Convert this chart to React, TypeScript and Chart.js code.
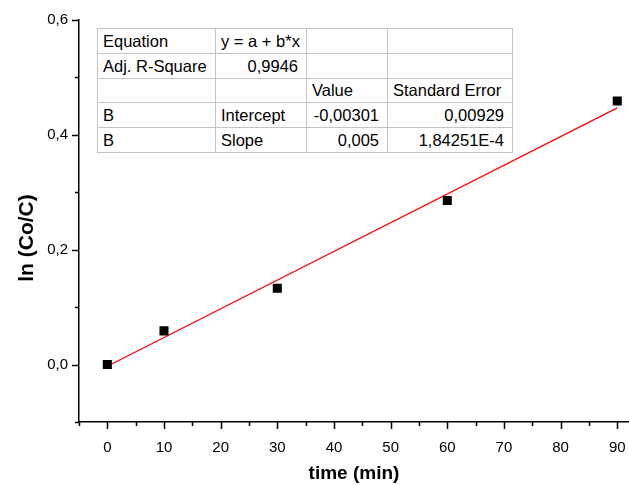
import React, { useEffect, useRef } from "react";
import { Chart, registerables } from "chart.js";

Chart.register(...registerables);

// ---- data ----
const timeMin = [0, 10, 30, 60, 90];
const lnCoC = [0.0, 0.0587, 0.133, 0.2857, 0.4589];

// linear fit line end points (y = a + b*x, a = -0.00301, b = 0.005)
const fitX = [0, 90];
const fitY = [-0.00301, 0.44699];

const xTickValues = [-5, 0, 5, 10, 15, 20, 25, 30, 35, 40, 45, 50, 55, 60, 65, 70, 75, 80, 85, 90];
const yTickValues = [-0.1, 0, 0.1, 0.2, 0.3, 0.4, 0.5, 0.6];

const xTitle = "time (min)";
const yTitle = "ln (Co/C)";

const tableRows: string[][] = [
  ["Equation", "y = a + b*x", "", ""],
  ["Adj. R-Square", "0,9946", "", ""],
  ["", "", "Value", "Standard Error"],
  ["B", "Intercept", "-0,00301", "0,00929"],
  ["B", "Slope", "0,005", "1,84251E-4"],
];
// which cells are right aligned
const tableRight: boolean[][] = [
  [false, false, false, false],
  [false, true, false, false],
  [false, false, false, false],
  [false, false, true, true],
  [false, false, true, true],
];
const colWidths = [118, 91, 81, 125];

const FONT = "'Liberation Sans', Arial, Helvetica, sans-serif";

const axisPlugin = {
  id: "originAxisDecor",
  afterDraw(chart: any) {
    const ctx = chart.ctx as CanvasRenderingContext2D;
    const { bottom, left } = chart.chartArea;
    const xs = chart.scales.x;
    const ys = chart.scales.y;
    ctx.save();
    ctx.strokeStyle = "#000";
    ctx.lineWidth = 1.5;
    ctx.beginPath();
    xTickValues.forEach((v) => {
      const px = Math.round(xs.getPixelForValue(v)) + 0.5;
      const len = v % 10 === 0 ? 7 : 4;
      ctx.moveTo(px, bottom);
      ctx.lineTo(px, bottom + len);
    });
    yTickValues.forEach((v) => {
      const py = Math.round(ys.getPixelForValue(v)) + 0.5;
      const len = Math.round(v * 10) % 2 === 0 ? 7 : 4;
      ctx.moveTo(left, py);
      ctx.lineTo(left - len, py);
    });
    ctx.stroke();

    ctx.fillStyle = "#000";
    ctx.textAlign = "center";
    ctx.textBaseline = "middle";
    ctx.font = `bold 19px ${FONT}`;
    ctx.fillText(xTitle, 354, 474);

    ctx.translate(27, 238);
    ctx.rotate(-Math.PI / 2);
    ctx.font = `bold 21px ${FONT}`;
    ctx.fillText(yTitle, 0, 0);
    ctx.restore();
  },
};

export default function App() {
  const canvasRef = useRef<HTMLCanvasElement | null>(null);

  useEffect(() => {
    if (!canvasRef.current) return;
    Chart.defaults.font.family = FONT;
    const chart = new Chart(canvasRef.current, {
      type: "scatter",
      data: {
        datasets: [
          {
            label: "data",
            data: timeMin.map((t, i) => ({ x: t, y: lnCoC[i] })),
            showLine: false,
            pointStyle: "rect",
            pointRadius: 6.4,
            pointBackgroundColor: "#000",
            pointBorderWidth: 0,
            backgroundColor: "#000",
            borderColor: "#000",
          },
          {
            label: "fit",
            data: fitX.map((t, i) => ({ x: t, y: fitY[i] })),
            showLine: true,
            pointRadius: 0,
            borderColor: "#ff0000",
            borderWidth: 1.2,
            backgroundColor: "#ff0000",
          },
        ],
      },
      options: {
        responsive: false,
        animation: false,
        devicePixelRatio: 1,
        layout: { padding: { top: 20, right: 0, left: 0, bottom: 0 } },
        plugins: { legend: { display: false }, tooltip: { enabled: false } },
        scales: {
          x: {
            type: "linear",
            min: -5,
            max: 92,
            afterBuildTicks: (scale: any) => {
              scale.ticks = xTickValues.map((v) => ({ value: v }));
            },
            afterFit: (scale: any) => {
              scale.height = 63;
              scale.paddingLeft = 0;
              scale.paddingRight = 0;
            },
            grid: { display: false, drawTicks: false },
            border: { display: true, color: "#000", width: 1.5 },
            ticks: {
              autoSkip: false,
              maxRotation: 0,
              padding: 17,
              color: "#000",
              font: { size: 15, family: FONT },
              callback: (v: any) => (v % 10 === 0 && v >= 0 ? String(v) : ""),
            },
          },
          y: {
            type: "linear",
            min: -0.1,
            max: 0.6,
            afterBuildTicks: (scale: any) => {
              scale.ticks = yTickValues.map((v) => ({ value: v }));
            },
            afterFit: (scale: any) => {
              scale.width = 79;
              scale.paddingTop = 0;
              scale.paddingBottom = 0;
            },
            grid: { display: false, drawTicks: false },
            border: { display: true, color: "#000", width: 1.5 },
            ticks: {
              autoSkip: false,
              padding: 11,
              color: "#000",
              font: { size: 15, family: FONT },
              callback: (v: any) => {
                const r = Math.round(v * 10);
                return r >= 0 && r % 2 === 0 ? (r / 10).toFixed(1).replace(".", ",") : "";
              },
            },
          },
        },
      },
      plugins: [axisPlugin],
    } as any);
    return () => chart.destroy();
  }, []);

  return (
    <div
      style={{
        position: "fixed",
        left: 0,
        top: 0,
        width: 629,
        height: 485,
        background: "#fff",
        overflow: "hidden",
      }}
    >
      <canvas ref={canvasRef} width={635} height={485} style={{ display: "block" }} />
      <table
        style={{
          position: "absolute",
          left: 97,
          top: 28,
          width: 415,
          tableLayout: "fixed",
          borderCollapse: "collapse",
          border: "1.5px solid #505050",
          background: "#fff",
          fontFamily: FONT,
          fontSize: 16.5,
          color: "#000",
        }}
      >
        <colgroup>
          {colWidths.map((w, i) => (
            <col key={i} style={{ width: w }} />
          ))}
        </colgroup>
        <tbody>
          {tableRows.map((row, r) => (
            <tr key={r} style={{ height: 24.8 }}>
              {row.map((cell, c) => (
                <td
                  key={c}
                  style={{
                    border: "1px solid #c4c4c4",
                    padding: tableRight[r][c] ? "0 8px 0 4px" : "0 4px 0 5px",
                    textAlign: tableRight[r][c] ? "right" : "left",
                    whiteSpace: "nowrap",
                    overflow: "hidden",
                    lineHeight: "20px",
                    verticalAlign: "middle",
                  }}
                >
                  {cell}
                </td>
              ))}
            </tr>
          ))}
        </tbody>
      </table>
    </div>
  );
}
